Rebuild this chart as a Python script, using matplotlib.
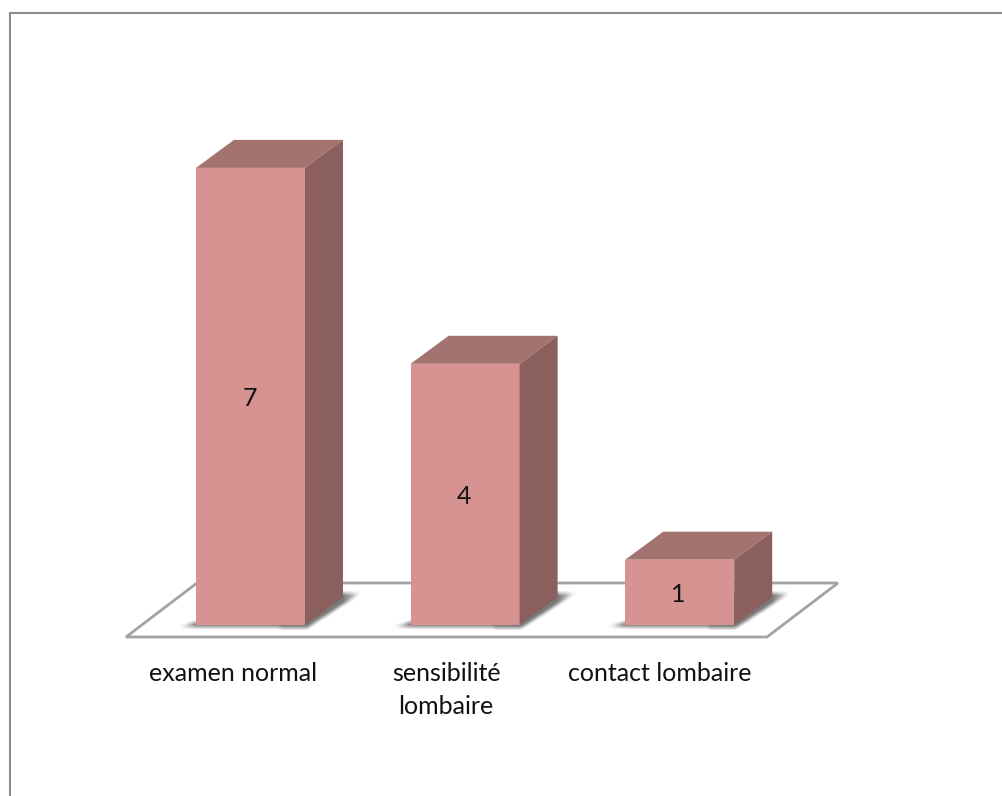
import numpy as np
import matplotlib
matplotlib.use('Agg')
import matplotlib.pyplot as plt
from matplotlib.patches import Polygon
from matplotlib.path import Path

categories = ['examen normal', 'sensibilité\nlombaire', 'contact lombaire']
values = [7, 4, 1]

W, H = 1003, 796
dpi = 100
plt.rcParams['font.family'] = ['Lato', 'DejaVu Sans']

# scale of the value axis and of the category axis, in pixels
px_unit = 65.3
px_cat = 214.6
x0_px = 250.5
base_px = 625


def to_x(px):
    return (px - x0_px) / px_cat


fig = plt.figure(figsize=(W / dpi, H / dpi), dpi=dpi, facecolor='white')
ax = fig.add_axes([0, 0, 1, 1])
xlim = (to_x(0), to_x(W))
ylim = ((base_px - H) / px_unit, base_px / px_unit)
ax.axis('off')

# outer frame, open at the bottom and on the right side
frame = '#8c8c8c'
fig.add_artist(plt.Line2D([10 / W, 10 / W, 1], [0, 1 - 13 / H, 1 - 13 / H],
                          color=frame, lw=1.5, solid_joinstyle='miter'))

bar_w = 0.508
dx = 38 / px_cat
dy = 28 / px_unit

# floor of the 3d plot
floor_y = -12 / px_unit
floor_top = 42 / px_unit
ax.add_patch(Polygon([(to_x(126), floor_y), (to_x(767), floor_y),
                      (to_x(838), floor_top), (to_x(197), floor_top)],
                     closed=True, fc='white', ec='#a3a3a3', lw=2, zorder=1))

xs = np.arange(len(values))

# soft shadow on the floor: rasterise the shape, box blur it, fade the ends
gx, gy = np.meshgrid(np.linspace(*xlim, W), np.linspace(ylim[1], ylim[0], H))
pts = np.column_stack([gx.ravel(), gy.ravel()])
alpha = np.zeros((H, W))
for i in xs:
    l, r = i - bar_w / 2, i + bar_w / 2
    shape = Path([(l - 18 / px_cat, -2 / px_unit), (r + 2 / px_cat, -3 / px_unit),
                  (r + dx + 18 / px_cat, dy + 4 / px_unit), (r, dy + 4 / px_unit)])
    mask = shape.contains_points(pts).reshape(H, W).astype(float)
    ramp = np.ones_like(gx)
    left = gx < l
    right = gx > r + dx
    ramp[left] = np.clip((gx[left] - (l - 18 / px_cat)) / (18 / px_cat), 0, 1)
    ramp[right] = np.clip(1 - (gx[right] - (r + dx)) / (20 / px_cat), 0, 1)
    alpha = np.maximum(alpha, mask * ramp)
kernel = np.ones(5) / 5
alpha = np.apply_along_axis(lambda c: np.convolve(c, kernel, mode='same'), 0, alpha)
alpha = np.apply_along_axis(lambda c: np.convolve(c, kernel, mode='same'), 1, alpha)
rgba = np.zeros((H, W, 4))
rgba[..., :3] = 0.38
rgba[..., 3] = alpha * 0.85
ax.imshow(rgba, extent=(*xlim, *ylim), aspect='auto', zorder=2, interpolation='nearest')

# front, top and side faces of each bar
for i, v in zip(xs, values):
    l, r = i - bar_w / 2, i + bar_w / 2
    ax.bar(i, v, width=bar_w, color='#d79391', zorder=3)
    ax.add_patch(Polygon([(l, v), (r, v), (r + dx, v + dy), (l + dx, v + dy)],
                         closed=True, fc='#a3736f', ec='none', zorder=3))
    ax.add_patch(Polygon([(r, 0), (r + dx, dy), (r + dx, v + dy), (r, v)],
                         closed=True, fc='#8a5f5d', ec='none', zorder=3))
    ax.text(i - 1 / px_cat, v / 2 - 2 / px_unit, str(v), ha='center', va='center',
            fontsize=18, color='#111111', zorder=4)

# category labels under the floor
label_shift = [-17, -19, -20]
for i, c, s in zip(xs, categories, label_shift):
    ax.text(i + s / px_cat, -37 / px_unit, c, ha='center', va='top', fontsize=18,
            linespacing=1.5, color='#111111', zorder=4)

ax.set_xlim(*xlim)
ax.set_ylim(*ylim)
fig.savefig('out.png', dpi=dpi)
